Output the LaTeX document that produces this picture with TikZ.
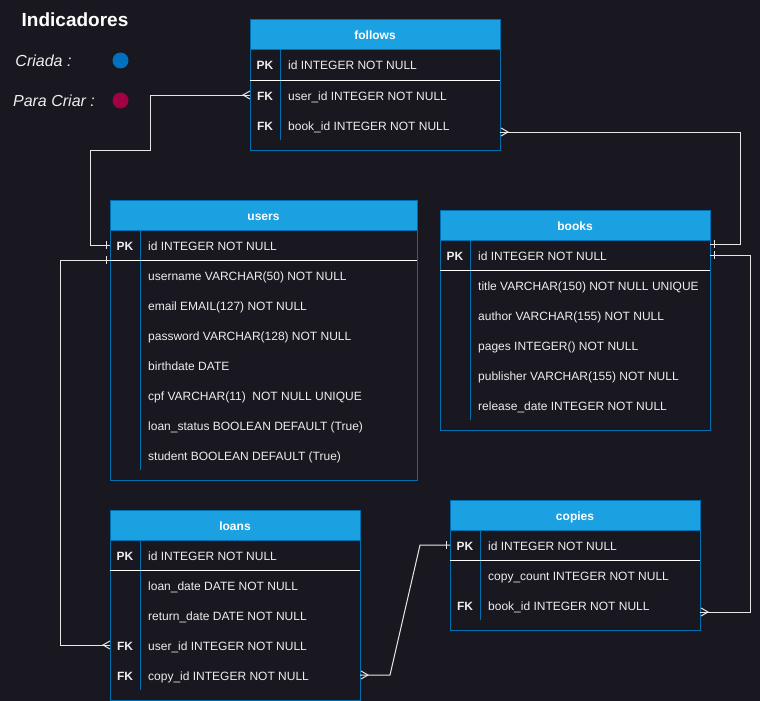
\documentclass[tikz,border=0pt]{standalone}
\usepackage{fontspec}
\setmainfont{Liberation Sans}
\definecolor{bg}{HTML}{19171F}
\definecolor{hdr}{HTML}{1BA1E2}
\definecolor{bord}{HTML}{006EAF}
\definecolor{txt}{HTML}{EEEEEE}
\definecolor{lnk}{HTML}{E6E6E6}
\definecolor{cblue}{HTML}{0070BF}
\definecolor{cred}{HTML}{A20045}
\tikzset{
  link/.style={draw=lnk, line width=1pt},
  sepline/.style={draw=white, line width=1pt},
  tbl/.style={draw=bord, line width=1pt, inner sep=0pt, outer sep=0pt, anchor=north west},
  hdrbox/.style={fill=hdr, draw=bord, line width=1pt, inner sep=0pt, outer sep=0pt, anchor=north west,
    minimum height=30pt, text=white, text height=10pt, text depth=0pt,
    font=\bfseries\fontsize{12}{14}\selectfont},
  keytxt/.style={text=txt, font=\bfseries\fontsize{12}{14}\selectfont, inner sep=0pt, text height=10pt, text depth=0pt},
  fldtxt/.style={text=txt, font=\fontsize{12}{14}\selectfont, inner sep=0pt, text height=10pt, text depth=0pt, anchor=west},
  indtitle/.style={text=white, font=\bfseries\fontsize{19}{22}\selectfont, inner sep=0pt},
  legtxt/.style={text=txt, font=\itshape\fontsize{16}{19}\selectfont, inner sep=0pt},
  legdot/.style={circle, minimum size=16pt, inner sep=0pt, draw=none},
  erone/.pic={\draw[link] (0,-4) -- (0,4);},
  ermany/.pic={\draw[link] (7,-4) -- (0,0) -- (7,4);}
}
\newcommand\ertable[6]{%
  \node[tbl, minimum width=#4pt, minimum height=#5pt] (#1) at (#2,#3) {};
  \node[hdrbox, minimum width=#4pt] (#1-h) at (#1.north west) {#6};
  \draw[draw=bord, line width=1pt] ([xshift=30pt]#1-h.south west) -- ([xshift=30pt,yshift=10pt]#1.south west);
  \draw[sepline] ([yshift=-30pt]#1-h.south west) -- ([yshift=-30pt]#1-h.south east);
}
\newcommand\errow[4]{%
  \pgfmathsetmacro\rowy{-(15+30*#2)}%
  \node[keytxt] (#1-k#2) at ([xshift=15pt,yshift=\rowy pt]#1.north west) {#3};
  \node[fldtxt] (#1-f#2) at ([xshift=38pt,yshift=\rowy pt]#1.north west) {#4};
}
\begin{document}
\begin{tikzpicture}[x=1pt,y=-1pt]
\fill[bg] (0,0) rectangle (760,701);
\useasboundingbox (0,0) rectangle (760,701);

% legend
\node[indtitle] (ind) at (75,19.5) {Indicadores};
\node[legtxt] (criada) at (43.5,61) {Criada :};
\node[legdot, fill=cblue] (dotc) at (120.5,60.5) {};
\node[legtxt] (paracriar) at (54,101) {Para Criar :};
\node[legdot, fill=cred] (dotp) at (120.5,100.5) {};

% tables
\ertable{follows}{250}{20}{250}{130}{follows}
\errow{follows}{1}{PK}{id INTEGER NOT NULL}
\errow{follows}{2}{FK}{user\_id INTEGER NOT NULL}
\errow{follows}{3}{FK}{book\_id INTEGER NOT NULL}

\ertable{users}{110}{200}{307}{280}{users}
\errow{users}{1}{PK}{id INTEGER NOT NULL}
\errow{users}{2}{}{username VARCHAR(50) NOT NULL}
\errow{users}{3}{}{email EMAIL(127) NOT NULL}
\errow{users}{4}{}{password VARCHAR(128) NOT NULL}
\errow{users}{5}{}{birthdate DATE}
\errow{users}{6}{}{cpf VARCHAR(11)\ \ NOT NULL UNIQUE}
\errow{users}{7}{}{loan\_status BOOLEAN DEFAULT (True)}
\errow{users}{8}{}{student BOOLEAN DEFAULT (True)}

\ertable{books}{440}{210}{270}{220}{books}
\errow{books}{1}{PK}{id INTEGER NOT NULL}
\errow{books}{2}{}{title VARCHAR(150) NOT NULL UNIQUE}
\errow{books}{3}{}{author VARCHAR(155) NOT NULL}
\errow{books}{4}{}{pages INTEGER() NOT NULL}
\errow{books}{5}{}{publisher VARCHAR(155) NOT NULL}
\errow{books}{6}{}{release\_date INTEGER NOT NULL}

\ertable{loans}{110}{510}{250}{190}{loans}
\errow{loans}{1}{PK}{id INTEGER NOT NULL}
\errow{loans}{2}{}{loan\_date DATE NOT NULL}
\errow{loans}{3}{}{return\_date DATE NOT NULL}
\errow{loans}{4}{FK}{user\_id INTEGER NOT NULL}
\errow{loans}{5}{FK}{copy\_id INTEGER NOT NULL}

\ertable{copies}{450}{500}{250}{130}{copies}
\errow{copies}{1}{PK}{id INTEGER NOT NULL}
\errow{copies}{2}{}{copy\_count INTEGER NOT NULL}
\errow{copies}{3}{FK}{book\_id INTEGER NOT NULL}

% connector 1: follows.user_id -> users.id
\coordinate (c1a) at (follows.west |- follows-k2);
\coordinate (c1b) at (users.west |- users-k1);
\draw[link] (c1a) -- ++(-100,0) -- ++(0,55) -- ++(-60,0) |- (c1b);
\pic at ([xshift=-7pt]c1a) {ermany};
\pic at ([xshift=-4pt]c1b) {erone};

% connector 2: follows.book_id -> books.id
\coordinate (c2a0) at (follows.east |- follows-k3);
\coordinate (c2a) at ([yshift=-7pt]c2a0);
\coordinate (c2b0) at (books.east |- books-k1);
\coordinate (c2b) at ([yshift=11pt]c2b0);
\draw[link] (c2a) -- ++(240,0) |- (c2b);
\pic[rotate=180] at ([xshift=8pt]c2a) {ermany};
\pic at ([xshift=4pt]c2b) {erone};

% connector 3: books.id -> copies.book_id
\coordinate (c3a) at (books.east |- books-k1);
\coordinate (c3b0) at (copies.east |- copies-k3);
\coordinate (c3b) at ([yshift=-7pt]c3b0);
\draw[link] (c3a) -- ++(40,0) |- (c3b);
\pic at ([xshift=4pt]c3a) {erone};
\pic[rotate=180] at ([xshift=8pt]c3b) {ermany};

% connector 4: users.id -> loans.user_id
\coordinate (c4a0) at (users.west |- users-k1);
\coordinate (c4a) at ([yshift=-15pt]c4a0);
\coordinate (c4b) at (loans.west |- loans-k4);
\draw[link] (c4a) -- ++(-50,0) |- (c4b);
\pic at ([xshift=-4pt]c4a) {erone};
\pic at ([xshift=-7pt]c4b) {ermany};

% connector 5: copies.id -> loans.copy_id
\coordinate (c5a) at (copies.west |- copies-k1);
\coordinate (c5b) at (loans.east |- loans-k5);
\draw[link] (c5a) -- ++(-30,0) -- ([xshift=30pt]c5b) -- (c5b);
\pic at ([xshift=-4pt]c5a) {erone};
\pic[rotate=180] at ([xshift=8pt]c5b) {ermany};
\end{tikzpicture}
\end{document}
